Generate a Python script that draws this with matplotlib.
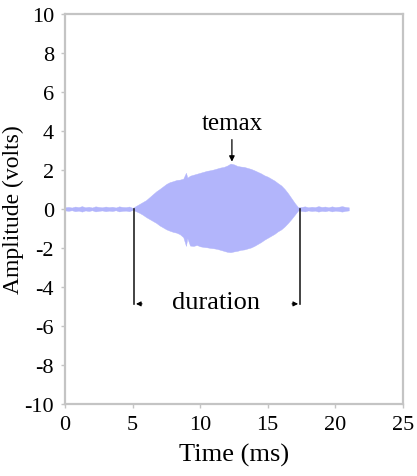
import numpy as np
import matplotlib.pyplot as plt

plt.rcParams.update({
    'font.family': ['Liberation Serif', 'DejaVu Serif'],
    'font.size': 16,
    'axes.unicode_minus': False,
})

# background noise before the burst (time ms, half-amplitude V)
pre_t = [0.0, 0.25, 0.5, 0.75, 1.0, 1.25, 1.5, 1.75, 2.0, 2.25, 2.5, 2.75,
         3.0, 3.25, 3.5, 3.75, 4.0, 4.25, 4.5, 4.75]
pre_a = [0.08, 0.10, 0.07, 0.12, 0.09, 0.14, 0.08, 0.11, 0.07, 0.13, 0.10,
         0.08, 0.12, 0.09, 0.11, 0.07, 0.13, 0.10, 0.09, 0.12]

# burst envelope
burst_t = [5.0, 5.25, 5.5, 5.75, 6.0, 6.25, 6.5, 6.75, 7.0, 7.25, 7.5, 7.75,
           8.0, 8.25, 8.5, 8.75, 8.95, 9.05, 9.25, 9.5, 9.75, 10.0, 10.25,
           10.5, 10.75, 11.0, 11.25, 11.5, 11.75, 12.0, 12.25, 12.5, 12.75,
           13.0, 13.25, 13.5, 13.75, 14.0, 14.25, 14.5, 14.75, 15.0, 15.25,
           15.5, 15.75, 16.0, 16.25, 16.5, 16.75, 17.0, 17.25]
burst_hi = [0.05, 0.15, 0.25, 0.35, 0.45, 0.60, 0.75, 0.90, 1.02, 1.15, 1.28,
            1.37, 1.42, 1.48, 1.50, 1.55, 1.85, 1.60, 1.70, 1.75, 1.80, 1.85,
            1.90, 1.95, 1.98, 2.02, 2.07, 2.12, 2.15, 2.22, 2.32, 2.28, 2.20,
            2.17, 2.15, 2.10, 2.05, 1.98, 1.90, 1.82, 1.72, 1.65, 1.55, 1.45,
            1.32, 1.20, 1.02, 0.80, 0.55, 0.30, 0.08]
burst_lo = [-0.05, -0.12, -0.20, -0.30, -0.42, -0.52, -0.62, -0.72, -0.85,
            -0.95, -1.05, -1.12, -1.18, -1.22, -1.30, -1.45, -1.90, -1.50,
            -1.88, -1.90, -1.85, -1.92, -1.95, -1.97, -2.00, -2.02, -2.05,
            -2.10, -2.15, -2.20, -2.22, -2.18, -2.15, -2.10, -2.08, -2.03,
            -1.98, -1.90, -1.80, -1.70, -1.58, -1.48, -1.38, -1.28, -1.15,
            -1.05, -0.90, -0.72, -0.52, -0.30, -0.08]

# background noise after the burst
post_t = [17.5, 17.75, 18.0, 18.25, 18.5, 18.75, 19.0, 19.25, 19.5, 19.75,
          20.0, 20.25, 20.5, 20.75, 21.0]
post_a = [0.10, 0.13, 0.08, 0.11, 0.09, 0.14, 0.10, 0.12, 0.08, 0.13, 0.09,
          0.11, 0.14, 0.10, 0.08]

t_all = np.array(pre_t + burst_t + post_t)
hi_all = np.array(pre_a + burst_hi + post_a)
lo_all = np.array([-a for a in pre_a] + burst_lo + [-a for a in post_a])

temax_t = 12.35
dur_start, dur_end = 5.1, 17.4

fig = plt.figure(figsize=(4.17, 4.77), dpi=100)
ax = fig.add_axes([0.156, 0.151, 0.81, 0.818])

ax.fill_between(t_all, lo_all, hi_all, color='#b2b5fb', linewidth=0.3,
                edgecolor='#b2b5fb')

# temax arrow
ax.annotate('temax', xy=(temax_t, 2.42), xytext=(temax_t, 4.4),
            ha='center', va='center', fontsize=18,
            arrowprops=dict(arrowstyle='-|>', color='black', lw=0.9,
                            shrinkA=2, shrinkB=0, mutation_scale=8))

# duration markers
for x0 in (dur_start, dur_end):
    ax.plot([x0, x0], [0.0, -4.87], color='#222222', lw=1.2)
ax.annotate('', xy=(dur_start + 0.15, -4.87), xytext=(dur_start + 0.6, -4.87),
            arrowprops=dict(arrowstyle='-|>', color='black', lw=0.8,
                            shrinkA=0, shrinkB=0, mutation_scale=7))
ax.annotate('', xy=(dur_end - 0.15, -4.87), xytext=(dur_end - 0.6, -4.87),
            arrowprops=dict(arrowstyle='-|>', color='black', lw=0.8,
                            shrinkA=0, shrinkB=0, mutation_scale=7))
ax.text(11.2, -4.75, 'duration', ha='center', va='center', fontsize=19)

ax.set_xlim(0, 25)
ax.set_ylim(-10, 10)
ax.set_xticks([0, 5, 10, 15, 20, 25])
ax.set_yticks(np.arange(-10, 11, 2))
for s in ax.spines.values():
    s.set_color('#c4c4c4')
    s.set_linewidth(1.6)
ax.tick_params(direction='out', length=3, width=1, color='#c4c4c4',
               labelsize=16, pad=5)
ax.set_xlabel('Time (ms)', fontsize=19, labelpad=6)
ax.set_ylabel('Amplitude (volts)', fontsize=17, labelpad=0)

fig.savefig('out.png', dpi=100)
